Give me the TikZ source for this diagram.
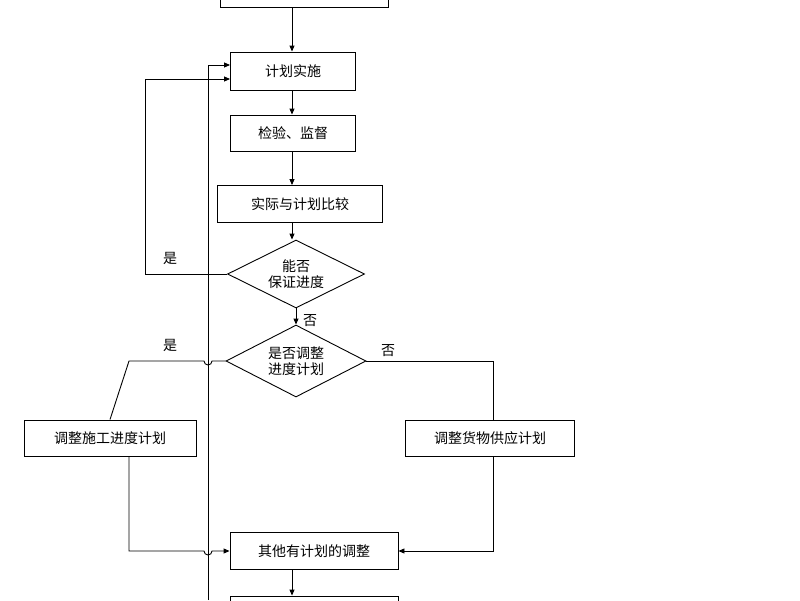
\documentclass[tikz,border=0pt]{standalone}
\usepackage{fontspec}
\setmainfont{Noto Sans CJK SC}
\usetikzlibrary{shapes.geometric,arrows.meta}
\begin{document}
\begin{tikzpicture}[x=1pt,y=-1pt,
  box/.style={draw,line width=0.9pt,minimum height=36pt,inner sep=0pt,font=\fontsize{14}{16}\selectfont},
  dia/.style={draw,line width=0.9pt,diamond,aspect=2,inner sep=0pt,align=center,font=\fontsize{14}{16}\selectfont},
  ln/.style={line width=0.9pt},
  ar/.style={ln,-{Triangle[length=6pt,width=5pt]}},
  lab/.style={font=\fontsize{14}{16}\selectfont}]
\useasboundingbox (0,0) rectangle (800,600);
\node[box,minimum width=168pt,minimum height=36pt] (top) at (304,-11) {};
\node[box,minimum width=125pt,minimum height=38pt] (a) at (293,71) {计划实施};
\node[box,minimum width=125pt] (b) at (293,133) {检验、监督};
\node[box,minimum width=165pt,minimum height=37pt] (c) at (300,204) {实际与计划比较};
\node[dia,minimum width=137pt,minimum height=68pt] (d1) at (296,274) {能否\\保证进度};
\node[dia,minimum width=140pt,minimum height=72pt] (d2) at (296,361) {是否调整\\进度计划};
\node[box,minimum width=172pt] (l) at (110,438) {调整施工进度计划};
\node[box,minimum width=169pt] (r) at (490,438) {调整货物供应计划};
\node[box,minimum width=168pt,minimum height=37pt] (o) at (314,551) {其他有计划的调整};
\node[box,minimum width=168pt] (bot) at (314,614) {};
\coordinate (v) at (208,600);
\draw[ar] (top.south -| 292,0) -- (a.north -| 292,0);
\draw[ar] (a.south -| 292,0) -- (b.north -| 292,0);
\draw[ar] (b.south -| 292,0) -- (c.north -| 292,0);
\draw[ar] (c.south -| 292,0) -- (d1.north -| 292,0);
\draw[ar] (d1.south) -- (d2.north);
\draw[ar] (v) -- (208,65) -- (a.west |- 0,65);
\draw[ar] (d1.west) -- (145,274) -- (145,79) -- (a.west |- 0,79);
\draw[ln] (d2.west) -- (212,361) arc[start angle=0,end angle=180,radius=4] -- (129,361) -- (l.north);
\draw[ln] (d2.east) -- (493,361) -- (r.north -| 493,0);
\draw[ar] (l.south -| 129,0) -- (129,551) -- (204,551) arc[start angle=180,end angle=0,radius=4] -- (o.west);
\draw[ar] (r.south -| 493,0) -- (493,551) -- (o.east);
\draw[ar] (o.south -| 292,0) -- (bot.north -| 292,0);
\node[lab] (y1) at (170,258) {是};
\node[lab] (n1) at (310,321) {否};
\node[lab] (y2) at (170,345) {是};
\node[lab] (n2) at (388,351) {否};
\end{tikzpicture}
\end{document}
